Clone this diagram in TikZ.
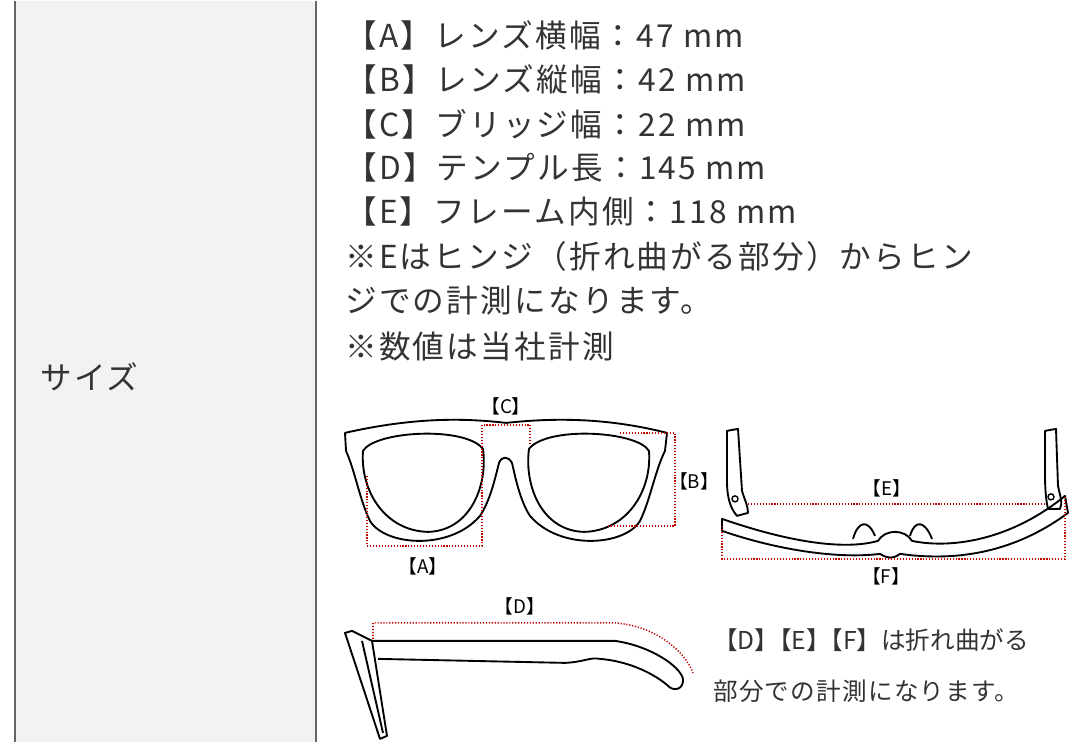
\documentclass[tikz,border=0pt]{standalone}
\usepackage{fontspec}
\setmainfont{Noto Sans CJK JP}
\begin{document}
\begin{tikzpicture}[x=0.03cm,y=-0.03cm,
    txt/.style={anchor=west,inner sep=0pt,font=\fontsize{27}{30}\selectfont\addfontfeatures{LetterSpace=7},text=black!80},
    lbl/.style={inner sep=0pt,font=\fontsize{16}{18}\selectfont},
    frame/.style={line width=1.6pt,line join=round},
    meas/.style={red!75!black,dash pattern=on 1pt off 1.5pt,line width=1.3pt}]
    % background and table
      \fill[white] (0,0) rectangle (1080,741);
      \fill[black!5] (15,0) rectangle (316,741);
      \draw[black!60,line width=1.5pt] (15,0) -- (15,741);
      \draw[black!60,line width=1.5pt] (316,0) -- (316,741);
      \node[txt] (size) at (40,376) {サイズ};

    % spec lines
      \node[txt] (la) at (345,35)  {【A】レンズ横幅：47 mm};
      \node[txt] (lb) at (345,79)  {【B】レンズ縦幅：42 mm};
      \node[txt] (lc) at (345,123) {【C】ブリッジ幅：22 mm};
      \node[txt] (ld) at (345,167) {【D】テンプル長：145 mm};
      \node[txt] (le) at (345,211) {【E】フレーム内側：118 mm};
      \node[txt] (n1) at (345,256) {※Eはヒンジ（折れ曲がる部分）からヒン};
      \node[txt] (n2) at (345,300) {ジでの計測になります。};
      \node[txt] (n3) at (345,346) {※数値は当社計測};

    % front view
      \draw[frame] (345,432) .. controls (420,415) and (470,418) .. (506,422)
        .. controls (545,418) and (600,415) .. (667,432)
        -- (665,450) .. controls (655,470) and (650,500) .. (640,520)
        .. controls (625,545) and (560,550) .. (530,515)
        .. controls (520,500) and (515,475) .. (512,462)
        .. controls (508,455) and (502,455) .. (499,462)
        .. controls (495,478) and (490,500) .. (480,515)
        .. controls (450,550) and (385,545) .. (370,520)
        .. controls (360,500) and (355,470) .. (346,450) -- cycle;
      \draw[frame] (363,450) .. controls (375,430) and (465,425) .. (483,448)
        .. controls (488,485) and (470,530) .. (428,531)
        .. controls (385,530) and (360,490) .. (363,450) -- cycle;
      \draw[frame] (649,450) .. controls (637,430) and (547,425) .. (529,448)
        .. controls (524,485) and (542,530) .. (584,531)
        .. controls (627,530) and (652,490) .. (649,450) -- cycle;
      \draw[meas] (367,475) |- (482,545) -- (482,424) -- (530,424) -- (530,442);
      \draw[meas] (620,432) -- (675,432) -- (675,525) -- (608,525);
      \node[lbl] (lblc) at (506,405) {【C】};
      \node[lbl] (lblb) at (694,480) {【B】};
      \node[lbl] (lbla) at (423,565) {【A】};

    % back view
      \draw[frame] (722,518) .. controls (800,545) and (850,548) .. (878,540)
        .. controls (885,528) and (905,528) .. (912,540)
        .. controls (950,548) and (1010,540) .. (1065,495)
        -- (1068,512) .. controls (1010,555) and (950,560) .. (900,553)
        .. controls (893,558) and (888,558) .. (880,553)
        .. controls (840,558) and (780,550) .. (722,530) -- cycle;
      \draw[frame] (853,538) .. controls (858,520) and (868,518) .. (875,535);
      \draw[frame] (910,535) .. controls (915,518) and (925,520) .. (932,538);
      \draw[frame] (727,430) -- (738,428) -- (742,490) .. controls (745,500) and (748,505) .. (748,512) -- (737,515) .. controls (728,505) and (727,490) .. (727,480) -- cycle;
      \draw[frame] (1045,430) -- (1056,428) -- (1058,485) .. controls (1060,495) and (1063,502) .. (1060,508) -- (1048,508) .. controls (1045,495) and (1045,480) .. (1045,470) -- cycle;
      \draw[line width=1.2pt] (735,498) circle (3);
      \draw[line width=1.2pt] (1051,496) circle (3);
      \draw[meas] (748,503) -- (1045,503);
      \draw[meas] (722,525) |- (1065,558) -- (1065,495);
      \node[lbl] (lble) at (887,487) {【E】};
      \node[lbl] (lblf) at (886,575) {【F】};

    % side view
      \draw[frame] (345,632) -- (352,630) -- (372,640) -- (387,735) -- (380,738) -- cycle;
      \draw[frame] (362,640) -- (383,732);
      \draw[frame] (372,640) -- (615,640) .. controls (650,645) and (680,665) .. (683,678)
        .. controls (684,688) and (674,692) .. (667,684)
        .. controls (650,670) and (625,660) .. (600,658) .. controls (590,656) and (585,661) .. (565,662)
        -- (378,658);
      \draw[meas] (373,638) -- (373,622) -- (615,622) .. controls (655,625) and (685,650) .. (693,672);
      \node[lbl] (lbld) at (520,605) {【D】};
      \node[txt,font=\fontsize{21}{24}\selectfont] (nd1) at (713,639) {【D】\kern-0.5em【E】\kern-0.5em【F】は折れ曲がる};
      \node[txt,font=\fontsize{21}{24}\selectfont\addfontfeatures{LetterSpace=5}] (nd2) at (713,690) {部分での計測になります。};
\end{tikzpicture}
\end{document}
